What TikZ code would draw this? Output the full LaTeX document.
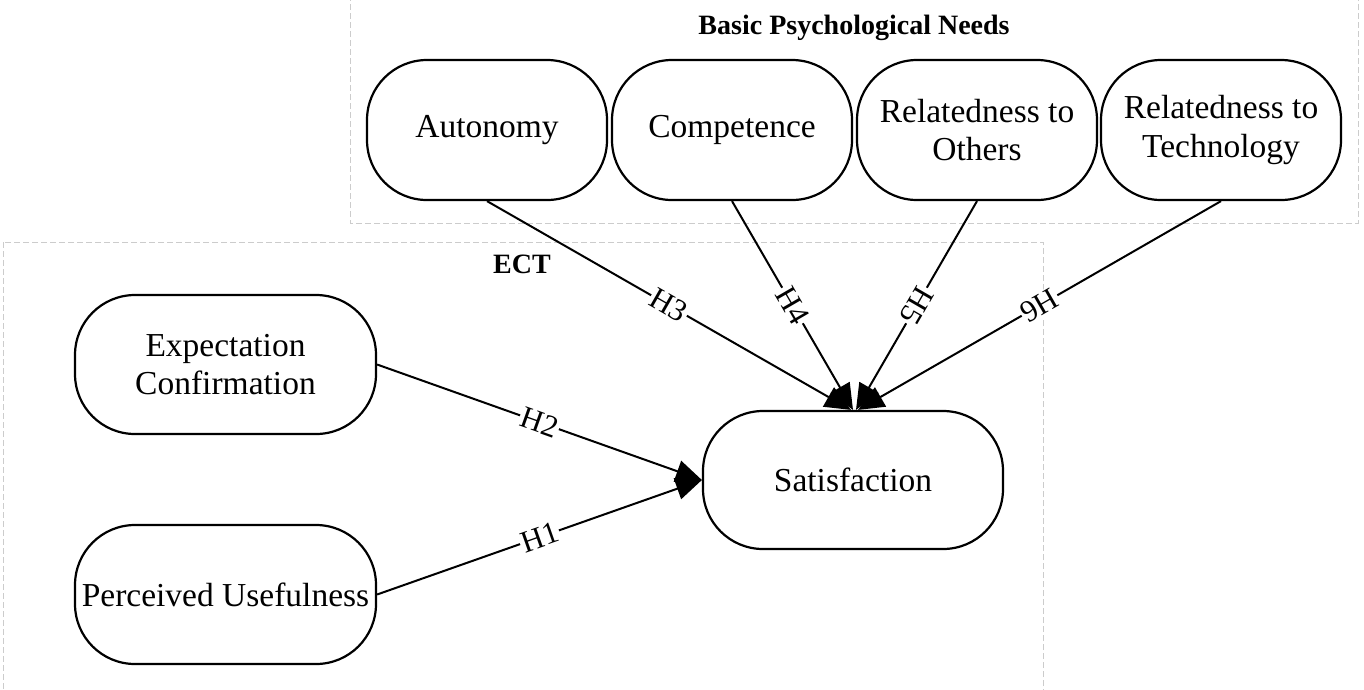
\documentclass[tikz,border=0pt]{standalone}
\usepackage{fontspec}
\setmainfont{Liberation Serif}
\usetikzlibrary{arrows.meta,calc}
\tikzset{
  concept/.style={draw, line width=2.2pt, rounded corners=60pt, inner sep=0pt,
    align=center, font=\fontsize{33.5}{38.5}\selectfont},
  topbox/.style={concept, minimum width=240pt, minimum height=140pt},
  widebox/.style={concept, minimum width=301pt, minimum height=139pt},
  cluster/.style={draw=black!20, line width=1pt, dash pattern=on 6pt off 3pt},
  ctitle/.style={font=\fontsize{28}{32}\selectfont\bfseries, anchor=base},
  hyp/.style={line width=2pt, -{Triangle[length=26pt,width=22pt]}},
  hlab/.style={midway, sloped, allow upside down, fill=white, inner sep=1.5pt,
    font=\fontsize{31}{34}\selectfont}
}
\begin{document}
\begin{tikzpicture}[x=1pt,y=-1pt]
\useasboundingbox (0,0) rectangle (1364,689);
\clip (0,0) rectangle (1364,689);
% clusters
\draw[cluster] (350,-5) rectangle (1358,223);
\draw[cluster] (3,242) rectangle (1043,700);
\node[ctitle] (bpnt) at (854,34) {Basic Psychological Needs};
\node[ctitle] (ectt) at (522,273) {ECT};
% nodes
\node[topbox] (aut) at (487,130) {Autonomy};
\node[topbox] (com) at (732,130) {Competence};
\node[topbox] (rto) at (977,130) {Relatedness to\\Others};
\node[topbox] (rtt) at (1221,130) {Relatedness to\\Technology};
\node[widebox] (ec) at (225.5,364.5) {Expectation\\Confirmation};
\node[widebox] (pu) at (225.5,594.5) {Perceived Usefulness};
\node[concept, minimum width=300pt, minimum height=138pt] (sat) at (853,480) {Satisfaction};
% end points on Satisfaction
\coordinate (t3) at ($(sat.north)+(-2,0)$);
\coordinate (t4) at ($(sat.north)+(0,0)$);
\coordinate (t5) at ($(sat.north)+(3,0)$);
\coordinate (t6) at ($(sat.north)+(5,0)$);
% edges
\draw[hyp] (ec.east) -- (sat.west) node[hlab] {H2};
\draw[hyp] (pu.east) -- (sat.west) node[hlab] {H1};
\draw[hyp] (aut.south) -- (t3) node[hlab] {H3};
\draw[hyp] (com.south) -- (t4) node[hlab] {H4};
\draw[hyp] (rto.south) -- (t5) node[hlab] {H5};
\draw[hyp] (rtt.south) -- (t6) node[hlab] {H6};
\end{tikzpicture}
\end{document}
